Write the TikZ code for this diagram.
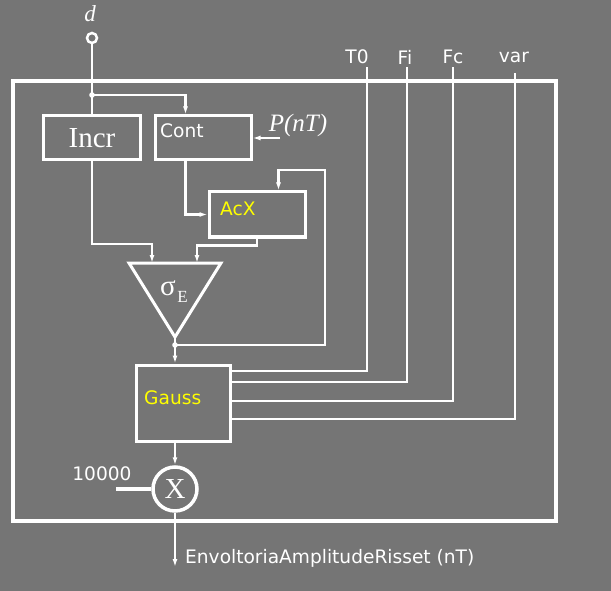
\documentclass[tikz,border=0pt]{standalone}
\usepackage{fontspec}
\setmainfont{Liberation Serif}
\newfontfamily\sansf{DejaVu Sans}
\usetikzlibrary{arrows.meta}
\definecolor{bg}{HTML}{757575}
\definecolor{yel}{HTML}{FFFF00}
\begin{document}
\begin{tikzpicture}[x=1pt,y=-1pt,
  wire/.style={white, line width=2.7pt},
  arr/.style={wire, -{Latex[length=8pt,width=5pt]}},
  box/.style={draw=white, line width=3pt, inner sep=0pt},
  slbl/.style={text=white, font=\sansf\fontsize{18.6}{20}\selectfont, inner sep=0pt},
  ylbl/.style={text=yel, font=\sansf\fontsize{18.6}{20}\selectfont, inner sep=0pt, anchor=west},
  jdot/.style={white}
]
\fill[bg] (0,0) rectangle (611,591);
\useasboundingbox (0,0) rectangle (611,591);
% frame
\draw[white, line width=4pt] (13,81) rectangle (556,521);
% input d
\node[text=white, inner sep=0pt, font=\fontsize{23}{24}\selectfont\itshape] (dlbl) at (90,14) {d};
\node[circle, draw=white, line width=2.5pt, minimum size=10pt, inner sep=0pt] (din) at (92,38) {};
% boxes
\node[box, minimum width=97pt, minimum height=44pt, text=white, font=\fontsize{29}{30}\selectfont] (incr) at (92,138) {Incr};
\node[box, minimum width=96pt, minimum height=44pt] (cont) at (203,138) {};
\node[slbl, anchor=west] (contlbl) at (160,131) {Cont};
\node[box, minimum width=96pt, minimum height=45pt] (acx) at (257,214.5) {};
\node[ylbl] (acxlbl) at (220,209) {AcX};
\node[box, minimum width=94pt, minimum height=76pt] (gauss) at (183,403) {};
\node[ylbl] (gausslbl) at (144,398) {Gauss};
\node[circle, draw=white, line width=3.5pt, minimum size=44pt, inner sep=0pt, text=white, font=\fontsize{29}{30}\selectfont] (mult) at (175,489) {X};
% triangle
\coordinate (tl) at (129,263);
\coordinate (tr) at (221,263);
\coordinate (ta) at (175,337);
\draw[white, line width=3pt, line join=miter] (tl) -- (tr) -- (ta) -- cycle;
\node[text=white, inner sep=0pt, font=\fontsize{29}{30}\selectfont] (sig) at (168,288) {σ};
\node[text=white, inner sep=0pt, font=\fontsize{17}{18}\selectfont] (sigE) at (182.5,297) {E};
% labels
\node[text=white, inner sep=0pt, font=\fontsize{25}{26}\selectfont\itshape] (pnt) at (298,125) {P(nT)};
\node[slbl] (t0lbl) at (357,57) {T0};
\node[slbl] (filbl) at (405,57) {Fi};
\node[slbl] (fclbl) at (453,57) {Fc};
\node[slbl] (varlbl) at (514,57) {var};
\node[slbl] (klbl) at (102,474) {10000};
\node[slbl, anchor=west] (outlbl) at (185,558) {EnvoltoriaAmplitudeRisset (nT)};
% coordinates
\coordinate (j1) at (92,95);
\coordinate (j2) at (175,345);
\coordinate (pin) at (280,138);
\coordinate (tin1) at (152,263);
\coordinate (tin2) at (197,263);
\coordinate (t0) at (367,67);
\coordinate (fi) at (407,67);
\coordinate (fc) at (453,67);
\coordinate (var) at (515,73);
\coordinate (k) at (116,489);
\coordinate (out) at (175,567);
% connectors
\draw[wire] (din.south) -- (incr.north);
\fill[jdot] (j1) circle (2.8pt);
\draw[arr] (j1) -| ([xshift=32pt]cont.north west);
\draw[arr] (pin) -- (cont.east);
\draw[arr] ([xshift=32pt]cont.south west) |- (acx.west);
\draw[arr] (j2) -| (325,170) -| ([xshift=71pt]acx.north west);
\draw[arr] (incr.south) |- (tin1 |- 0,244) -- (tin1);
\draw[arr] (acx.south) -- ++(0,7) -| (tin2);
\draw[arr] (ta) -- (ta |- gauss.north);
\fill[jdot] (j2) circle (2.8pt);
\draw[wire] (gauss.east |- 0,371) -| (t0);
\draw[wire] (gauss.east |- 0,382) -| (fi);
\draw[wire] (gauss.east |- 0,401) -| (fc);
\draw[wire] (gauss.east |- 0,419) -| (var);
\draw[arr] (ta |- gauss.south) -- (mult.north);
\draw[white, line width=4pt] (k) -- (mult.west);
\draw[arr] (mult.south) -- (out);
\end{tikzpicture}
\end{document}
